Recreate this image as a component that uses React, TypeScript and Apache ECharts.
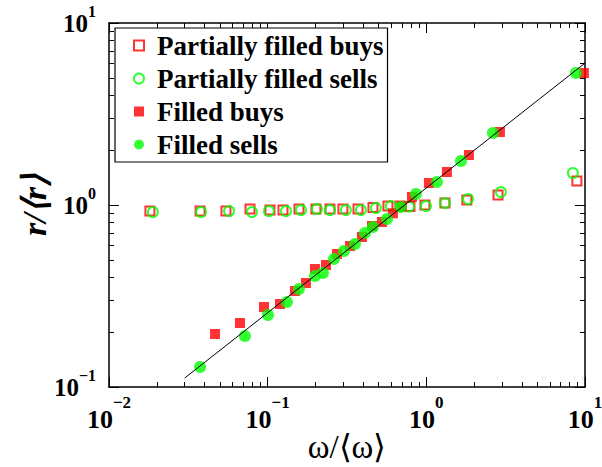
import React, { useEffect, useRef } from "react";
import * as echarts from "echarts";

const partialBuysX = [0.0181, 0.0375, 0.0546, 0.0774, 0.1034, 0.1249, 0.1575, 0.2015, 0.247, 0.298, 0.371, 0.461, 0.573, 0.682, 0.788, 0.98, 1.31, 1.8, 2.83, 8.89];
const partialBuysY = [0.927, 0.927, 0.927, 0.951, 0.939, 0.939, 0.951, 0.951, 0.951, 0.951, 0.951, 0.969, 0.987, 0.987, 0.981, 1.0, 1.026, 1.065, 1.135, 1.355];

const partialSellsX = [0.0189, 0.038, 0.0571, 0.0796, 0.1019, 0.1304, 0.1621, 0.2045, 0.247, 0.311, 0.387, 0.481, 0.598, 0.777, 0.994, 1.31, 1.83, 2.95, 8.39];
const partialSellsY = [0.915, 0.915, 0.927, 0.915, 0.927, 0.927, 0.939, 0.951, 0.939, 0.939, 0.939, 0.963, 0.987, 0.981, 0.987, 1.026, 1.079, 1.179, 1.499];

const filledBuysX = [0.0466, 0.0669, 0.0948, 0.1196, 0.1486, 0.1743, 0.1986, 0.2331, 0.2734, 0.3301, 0.3929, 0.4542, 0.5252, 0.6158, 0.702, 0.8115, 1.038, 1.348, 1.855, 2.909, 9.84];
const filledBuysY = [0.1955, 0.2247, 0.2752, 0.2858, 0.337, 0.3727, 0.445, 0.4681, 0.538, 0.5952, 0.6671, 0.7668, 0.8065, 0.9, 0.98, 1.107, 1.321, 1.518, 1.883, 2.518, 5.31];

const filledSellsX = [0.0375, 0.0719, 0.1004, 0.1323, 0.1575, 0.1986, 0.2231, 0.2617, 0.3026, 0.3549, 0.4104, 0.4608, 0.5646, 0.6918, 0.86, 1.166, 1.652, 2.629, 8.76];
const filledSellsY = [0.1288, 0.1906, 0.2487, 0.2931, 0.3455, 0.4074, 0.4231, 0.5051, 0.5589, 0.6105, 0.7017, 0.757, 0.8377, 0.975, 1.149, 1.338, 1.745, 2.487, 5.31];

const fitX = [0.03, 10];
const fitY = [0.112, 6.02];

const xMinorTicks = [0.02, 0.03, 0.04, 0.05, 0.06, 0.07, 0.08, 0.09, 0.2, 0.3, 0.4, 0.5, 0.6, 0.7, 0.8, 0.9, 2, 3, 4, 5, 6, 7, 8, 9];
const yMinorTicks = [0.2, 0.3, 0.4, 0.5, 0.6, 0.7, 0.8, 0.9, 2, 3, 4, 5, 6, 7, 8, 9];

const seriesNames = ["Partially filled buys", "Partially filled sells", "Filled buys", "Filled sells"];

const zip = (xs: number[], ys: number[]) => xs.map((x, i) => [x, ys[i]]);

const SERIF = "'Liberation Serif', 'Times New Roman', serif";

const tickFormatter = (v: number) => {
  const e = Math.round(Math.log10(v));
  const s = e < 0 ? "\u2212" + Math.abs(e) : String(e);
  return `{b|10}{s|${s}}`;
};

const richX = {
  b: { fontFamily: SERIF, fontWeight: "bold", fontSize: 26, color: "#000" },
  s: { fontFamily: SERIF, fontWeight: "bold", fontSize: 17, color: "#000", padding: [0, 0, 34, 0] },
};
const richY = {
  b: { fontFamily: SERIF, fontWeight: "bold", fontSize: 25, color: "#000" },
  s: { fontFamily: SERIF, fontWeight: "bold", fontSize: 16, color: "#000", padding: [0, 0, 24, 0] },
};

const axisLine = { show: true, lineStyle: { color: "#000", width: 1.5 } };
const majorTick = { show: true, inside: true, length: 10, lineStyle: { color: "#000", width: 1 } };
const minorTickX = { show: true, inside: true, length: 5, customValues: xMinorTicks, lineStyle: { color: "#000", width: 1 } };
const minorTickY = { show: true, inside: true, length: 5, customValues: yMinorTicks, lineStyle: { color: "#000", width: 1 } };

export default function App() {
  const ref = useRef<HTMLDivElement>(null);
  useEffect(() => {
    if (!ref.current) return;
    const chart = echarts.init(ref.current, null, { renderer: "svg" });
    const baseX = { type: "log", logBase: 10, min: 0.01, max: 10, splitLine: { show: false } };
    const baseY = { type: "log", logBase: 10, min: 0.1, max: 10, splitLine: { show: false } };
    chart.setOption({
      animation: false,
      backgroundColor: "#fff",
      grid: { left: 109, right: 17, top: 23, bottom: 80, containLabel: false, outerBoundsMode: "none" },
      legend: {
        data: seriesNames,
        left: 115,
        top: 28,
        orient: "vertical",
        selectedMode: false,
        backgroundColor: "#fff",
        borderColor: "#000",
        borderWidth: 1.2,
        borderRadius: 0,
        padding: [4, 4, 4, 18],
        itemWidth: 10,
        itemHeight: 10,
        itemGap: 6,
        textStyle: {
          fontFamily: SERIF,
          fontWeight: "bold",
          fontSize: 27,
          lineHeight: 26,
          color: "#000",
          padding: [0, 0, 0, 8],
        },
      },
      xAxis: [
        {
          ...baseX,
          position: "bottom",
          axisLine,
          axisTick: majorTick,
          axisLabel: { formatter: tickFormatter, rich: richX, margin: 7 },
          name: "\u03c9/\u27e8\u03c9\u27e9",
          nameLocation: "middle",
          nameGap: 43,
          nameMoveOverlap: false,
          nameTextStyle: { fontFamily: SERIF, fontSize: 33, color: "#000" },
        },
        { ...baseX, position: "top", axisLine, axisTick: majorTick, axisLabel: { show: false } },
        { ...baseX, position: "bottom", axisLine: { show: false }, axisTick: minorTickX, axisLabel: { show: false } },
        { ...baseX, position: "top", axisLine: { show: false }, axisTick: minorTickX, axisLabel: { show: false } },
      ],
      yAxis: [
        {
          ...baseY,
          position: "left",
          axisLine,
          axisTick: majorTick,
          axisLabel: { formatter: tickFormatter, rich: richY, margin: 13 },
          name: "r/\u27e8r\u27e9",
          nameLocation: "middle",
          nameGap: 58,
          nameMoveOverlap: false,
          nameTextStyle: { fontFamily: SERIF, fontSize: 34, fontWeight: "bold", fontStyle: "italic", color: "#000" },
        },
        { ...baseY, position: "right", axisLine, axisTick: majorTick, axisLabel: { show: false } },
        { ...baseY, position: "left", axisLine: { show: false }, axisTick: minorTickY, axisLabel: { show: false } },
        { ...baseY, position: "right", axisLine: { show: false }, axisTick: minorTickY, axisLabel: { show: false } },
      ],
      series: [
        {
          name: seriesNames[0],
          type: "scatter",
          symbol: "rect",
          symbolSize: 9,
          itemStyle: { color: "rgba(255,255,255,0)", borderColor: "#ff0000", borderWidth: 2 },
          data: zip(partialBuysX, partialBuysY),
        },
        {
          name: seriesNames[1],
          type: "scatter",
          symbol: "circle",
          symbolSize: 10,
          itemStyle: { color: "rgba(255,255,255,0)", borderColor: "#00ff00", borderWidth: 2 },
          data: zip(partialSellsX, partialSellsY),
        },
        {
          name: seriesNames[2],
          type: "scatter",
          symbol: "rect",
          symbolSize: 10,
          itemStyle: { color: "#ff0000" },
          data: zip(filledBuysX, filledBuysY),
        },
        {
          name: seriesNames[3],
          type: "scatter",
          symbol: "circle",
          symbolSize: 12,
          itemStyle: { color: "#00ff00" },
          data: zip(filledSellsX, filledSellsY),
        },
        {
          name: "fit",
          type: "line",
          symbol: "none",
          lineStyle: { color: "#000", width: 1 },
          data: zip(fitX, fitY),
          z: 10,
        },
      ],
    });
    return () => chart.dispose();
  }, []);
  return <div ref={ref} style={{ width: 602, height: 467, position: "absolute", left: 0, top: 0 }} />;
}
